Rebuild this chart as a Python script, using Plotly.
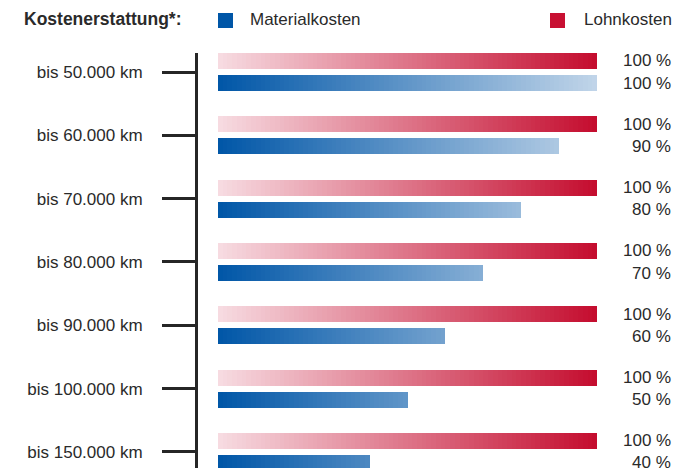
import plotly.graph_objects as go

categories = ["bis 50.000 km", "bis 60.000 km", "bis 70.000 km", "bis 80.000 km",
              "bis 90.000 km", "bis 100.000 km", "bis 150.000 km"]
lohnkosten = [100, 100, 100, 100, 100, 100, 100]
materialkosten = [100, 90, 80, 70, 60, 50, 40]
series_names = ["Materialkosten", "Lohnkosten"]
title_text = "Kostenerstattung*:"

FONT = "Liberation Sans, Arial, sans-serif"
TXT = "#2a2a2a"
FS = 17

red_start, red_end = (247, 220, 226), (196, 12, 46)
blue_start, blue_end = (0, 86, 167), (193, 213, 233)

N = 80
step = 100.0 / N
overlap = 0.25

# page offset (body margin) compensation
OFF = 8
W, H = 693 - OFF, 468 - OFF


def lerp(c0, c1, t):
    return "rgb(%d,%d,%d)" % tuple(round(a + (b - a) * t) for a, b in zip(c0, c1))


fig = go.Figure()

bar_w = 0.253
off = 0.174

for vals, c0, c1, pos in [(lohnkosten, red_start, red_end, -off),
                          (materialkosten, blue_start, blue_end, off)]:
    for k in range(N):
        base = k * step
        xs = [max(0.0, min(v, base + step + overlap) - base) for v in vals]
        t = (k + 0.5) / N
        fig.add_trace(go.Bar(
            y=categories, x=xs, base=[base] * len(vals), orientation="h",
            offset=pos - bar_w / 2, width=bar_w,
            marker=dict(color=lerp(c0, c1, t), line=dict(width=0)),
            showlegend=False, hoverinfo="skip",
        ))

# layout in reference pixel coordinates (shifted by OFF)
ml, mr, mt, mb = 198 - OFF, 693 - 600, 53 - OFF, 0
pw = W - ml - mr
ph = H - mt - mb


def px_x(px):
    return (px - OFF - ml) / pw


def px_y(py):
    return (H - mb - (py - OFF)) / ph


px_per = (597 - 218) / 100.0
x0 = -(218 - 198) / px_per
x1 = x0 + pw / px_per
cat_px = 63.33
y_top = -(72 - 53) / cat_px
y_bot = y_top + ph / cat_px

for i, cat in enumerate(categories):
    for vals, pos in [(lohnkosten, -off), (materialkosten, off)]:
        fig.add_annotation(
            x=px_x(673), y=cat, yshift=-pos * cat_px,
            xref="paper", yref="y", text="%d %%" % vals[i],
            showarrow=False, xanchor="right", yanchor="middle",
            font=dict(family=FONT, size=FS, color=TXT))

fig.add_annotation(x=px_x(22), y=px_y(19), xref="paper", yref="paper",
                   text="<b>%s</b>" % title_text, showarrow=False,
                   xanchor="left", yanchor="middle",
                   font=dict(family=FONT, size=17.5, color=TXT))
legend_items = [(series_names[0], "rgb(0,86,167)", 218, 248),
                (series_names[1], "rgb(200,16,50)", 550, 582)]
for name, col, sx, tx in legend_items:
    fig.add_shape(type="rect", xref="paper", yref="paper",
                  x0=px_x(sx), x1=px_x(sx + 15), y0=px_y(28), y1=px_y(13),
                  fillcolor=col, line=dict(width=0))
    fig.add_annotation(x=px_x(tx), y=px_y(20), xref="paper", yref="paper",
                       text=name, showarrow=False, xanchor="left", yanchor="middle",
                       font=dict(family=FONT, size=FS, color=TXT))

fig.update_layout(
    width=W, height=H,
    margin=dict(l=ml, r=mr, t=mt, b=mb, pad=0),
    paper_bgcolor="white", plot_bgcolor="white",
    barmode="overlay", bargap=0,
    xaxis=dict(range=[x0, x1], visible=False, fixedrange=True),
    yaxis=dict(type="category", range=[y_bot, y_top], showline=True,
               linewidth=3, linecolor="#262626", ticks="outside", ticklen=33,
               tickwidth=3, tickcolor="#262626", showgrid=False, zeroline=False,
               ticklabelstandoff=16,
               tickfont=dict(family=FONT, size=FS, color=TXT)),
    font=dict(family=FONT, size=FS, color=TXT),
    showlegend=False,
)

fig.write_html("out.html")
